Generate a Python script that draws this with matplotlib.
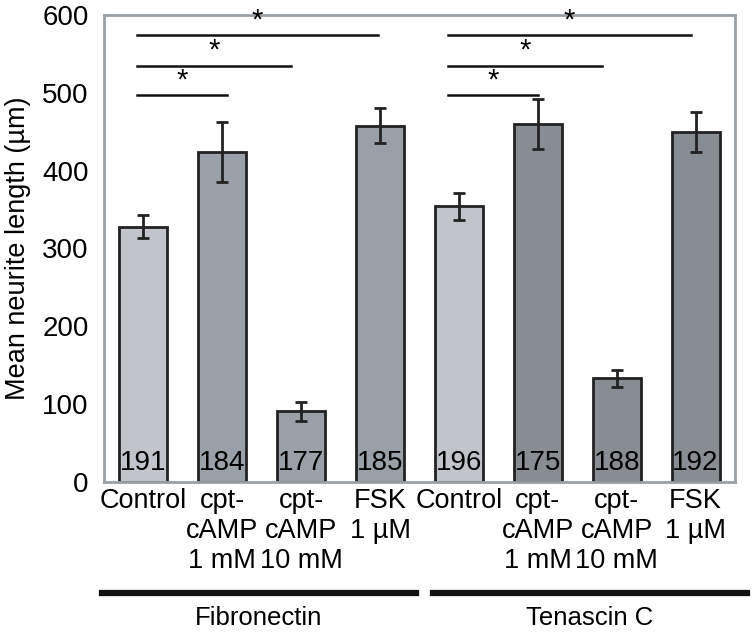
import matplotlib.pyplot as plt
import numpy as np

plt.rcParams['font.family'] = ['Liberation Sans', 'DejaVu Sans']

labels = ["Control", "cpt-\ncAMP\n1 mM", "cpt-\ncAMP\n10 mM", "FSK\n1 \u00b5M",
          "Control", "cpt-\ncAMP\n1 mM", "cpt-\ncAMP\n10 mM", "FSK\n1 \u00b5M"]
means = [328, 424, 91, 458, 354, 460, 133, 450]
errors = [15, 39, 12, 22, 17, 32, 11, 26]
counts = [191, 184, 177, 185, 196, 175, 188, 192]
colors = ["#c1c5cb", "#9aa0a7", "#9aa0a7", "#9aa0a7",
          "#c1c5cb", "#888d94", "#888d94", "#888d94"]
groups = ["Fibronectin", "Tenascin C"]

# significance brackets: (start, end, height)
sig = [(-0.08, 1.06, 497), (-0.08, 1.87, 535), (-0.08, 2.97, 574),
       (3.86, 5.0, 497), (3.86, 5.82, 535), (3.86, 6.94, 574)]

fig = plt.figure(figsize=(7.53, 6.35), dpi=100)
ax = fig.add_axes([104/753, 1 - 482/635, 631/753, 467/635])

x = np.arange(len(means))
ax.bar(x, means, width=0.61, color=colors, edgecolor="#222222", linewidth=2,
       yerr=errors, capsize=4.5, error_kw=dict(ecolor="#222222", elinewidth=2, capthick=2))

for xi, n in zip(x, counts):
    ax.text(xi, 8, str(n), ha="center", va="bottom", fontsize=20)

for x0, x1, h in sig:
    ax.plot([x0, x1], [h, h], color="#111111", lw=1.8)
    ax.text((x0 + x1) / 2, h + 1, "*", ha="center", va="bottom", fontsize=21)

ax.set_xlim(-0.5, 7.5)
ax.set_ylim(0, 600)
ax.set_yticks(range(0, 601, 100))
ax.tick_params(axis="y", length=0, labelsize=20, pad=11)
ax.set_xticks(x)
ax.set_xticklabels(labels, fontsize=19.5, linespacing=1.2)
ax.tick_params(axis="x", length=0, pad=4)
ax.set_ylabel("Mean neurite length (\u00b5m)", fontsize=19.5, labelpad=8)
for s in ax.spines.values():
    s.set_color("#9aa0a5")
    s.set_linewidth(2)

# group bars below
for i, g in enumerate(groups):
    x0 = -0.52 + i * 4.19
    x1 = 3.45 + i * 4.2
    ax.plot([x0, x1], [-142, -142], color="#111111", lw=4.5, clip_on=False)
    ax.text((x0 + x1) / 2, -175, g, ha="center", va="center", fontsize=18.5)

fig.savefig("out.png", dpi=100)
